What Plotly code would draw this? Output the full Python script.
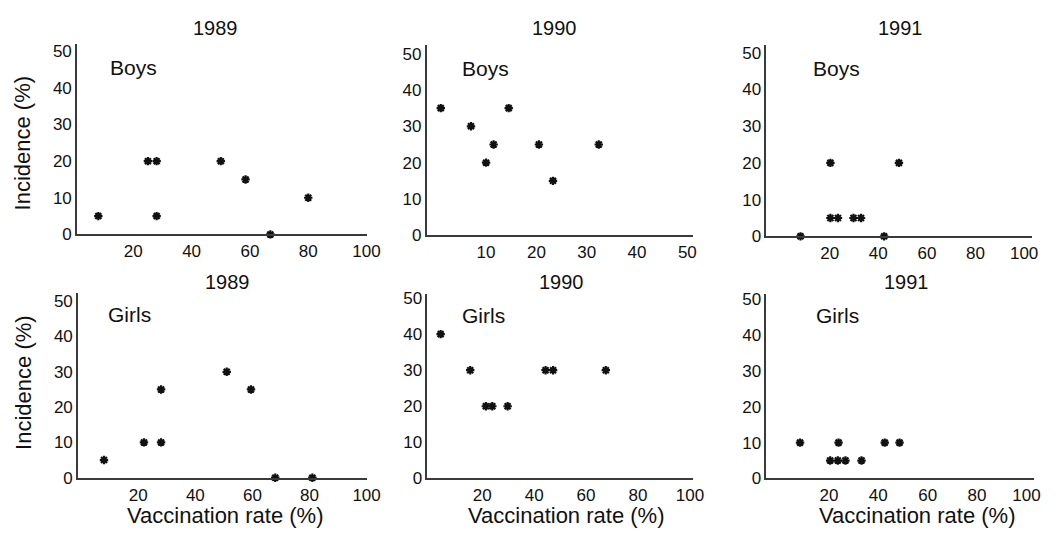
import plotly.graph_objects as go

W, H = 1058, 538

years = ["1989", "1990", "1991"]
groups = ["Boys", "Girls"]

boys_1989_x = [8, 25, 28, 28, 50, 58.5, 67, 80]
boys_1989_y = [5, 20, 20, 5, 20, 15, 0, 10]
boys_1990_x = [1, 7, 10, 11.5, 14.5, 20.5, 23.3, 32.4]
boys_1990_y = [35, 30, 20, 25, 35, 25, 15, 25]
boys_1991_x = [8, 20.3, 20.3, 23.4, 29.8, 32.9, 42.4, 48.5]
boys_1991_y = [0, 20, 5, 5, 5, 5, 0, 20]
girls_1989_x = [8, 22, 28, 28, 51, 59.5, 68, 81]
girls_1989_y = [5, 10, 10, 25, 30, 25, 0, 0]
girls_1990_x = [4, 15.4, 21.4, 23.9, 29.8, 44.4, 47.3, 67.6]
girls_1990_y = [40, 30, 20, 20, 20, 30, 30, 30]
girls_1991_x = [8.3, 23.9, 20.5, 23.6, 26.7, 33.2, 42.6, 48.6]
girls_1991_y = [10, 10, 5, 5, 5, 5, 10, 10]

y_ticks = [0, 10, 20, 30, 40, 50]
x_ticks_100 = [20, 40, 60, 80, 100]
x_ticks_50 = [10, 20, 30, 40, 50]

y_title = "Incidence (%)"
x_title = "Vaccination rate (%)"

series = [
    (boys_1989_x, boys_1989_y), (boys_1990_x, boys_1990_y), (boys_1991_x, boys_1991_y),
    (girls_1989_x, girls_1989_y), (girls_1990_x, girls_1990_y), (girls_1991_x, girls_1991_y),
]

# (x domain px, x range, y domain px (top, bottom), y range, x ticks)
panels = [
    ((78, 372), (0.7, 100.3), (40, 236), (0, 52), x_ticks_100),
    ((432, 702), (-1.8, 51.2), (41, 237), (0, 52.4), x_ticks_50),
    ((776, 1045), (-6.0, 103.3), (40.7, 238), (0, 52.2), x_ticks_100),
    ((79, 372), (-1.1, 100.3), (296.3, 487), (-0.2, 52.3), x_ticks_100),
    ((432.7, 701.7), (-1.1, 101.2), (297, 487), (0, 51.2), x_ticks_100),
    ((776, 1046.7), (-5.3, 103), (297, 487), (0, 51.6), x_ticks_100),
]


def fx(px):
    return px / W


def fy(py):
    return 1 - py / H


FONT = "Liberation Sans, Arial, Helvetica, sans-serif"
INK = "#111111"
AX = "#3a3a3a"

fig = go.Figure()
layout = {}
for i, ((xs, ys), (xd, xr, yd, yr, xt)) in enumerate(zip(series, panels), start=1):
    sfx = "" if i == 1 else str(i)
    fig.add_trace(go.Scatter(
        x=xs, y=ys, mode="markers",
        xaxis="x" + sfx, yaxis="y" + sfx,
        marker=dict(symbol="asterisk-open", size=7,
                    line=dict(width=2.2, color=INK), color=INK),
        cliponaxis=False, showlegend=False, hoverinfo="x+y",
    ))
    layout["xaxis" + sfx] = dict(
        domain=[fx(xd[0]), fx(xd[1])], range=list(xr), anchor="y" + sfx,
        tickvals=xt, ticktext=[str(v) for v in xt],
        showline=True, linecolor=AX, linewidth=1.6, showgrid=False, zeroline=False,
        ticks="", tickfont=dict(family=FONT, size=17, color=INK),
    )
    layout["yaxis" + sfx] = dict(
        domain=[fy(yd[1]), fy(yd[0])], range=list(yr), anchor="x" + sfx,
        tickvals=y_ticks, ticktext=[str(v) for v in y_ticks],
        showline=True, linecolor=AX, linewidth=1.6, showgrid=False, zeroline=False,
        ticks="", tickfont=dict(family=FONT, size=17, color=INK),
    )

ann = []


def add_text(text, px, py, size, xanchor="center", angle=0):
    ann.append(dict(text=text, x=fx(px), y=fy(py), xref="paper", yref="paper",
                    showarrow=False, xanchor=xanchor, yanchor="middle", textangle=angle,
                    borderpad=0, font=dict(family=FONT, size=size, color=INK)))


title_pos = [(218, 24), (561.7, 24), (911.7, 24), (230, 284.7), (568, 285), (918, 285)]
for k, (px, py) in enumerate(title_pos):
    add_text(years[k % 3], px, py, 20)

label_pos = [(110, 64), (466.7, 65.7), (821.7, 65), (108.3, 318), (466.7, 319), (825, 319.7)]
for k, (px, py) in enumerate(label_pos):
    add_text(groups[k // 3], px, py, 21, xanchor="left")

add_text(y_title, 23, 141.7, 22, angle=-90)
add_text(y_title, 23, 388, 22, angle=-90)
for px in (228, 573.3, 928):
    add_text(x_title, px, 525, 22)

fig.update_layout(
    width=W, height=H, margin=dict(l=0, r=0, t=0, b=0),
    paper_bgcolor="white", plot_bgcolor="white",
    annotations=ann, showlegend=False, **layout,
)

# remove the browser's default page margin so the 1058x538 figure fills the window exactly
fig.write_html(
    "out.html",
    config={"displayModeBar": False},
    post_script="document.body.style.margin='0';document.body.style.overflow='hidden';",
)
